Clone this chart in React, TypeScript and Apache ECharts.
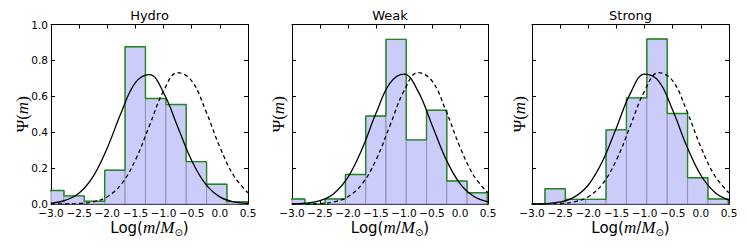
import React, { useEffect, useRef } from "react";
import * as echarts from "echarts";

const panelTitles = ["Hydro", "Weak", "Strong"];
const binEdges = [-3.13, -2.77, -2.408, -2.046, -1.684, -1.322, -0.96, -0.598, -0.236, 0.126, 0.488];
const hydroHist = [0.075, 0.045, 0.015, 0.188, 0.876, 0.588, 0.554, 0.236, 0.11, 0.013];
const weakHist = [0.028, 0.0, 0.028, 0.164, 0.49, 0.917, 0.357, 0.522, 0.128, 0.063];
const strongHist = [0.0, 0.085, 0.026, 0.026, 0.413, 0.591, 0.919, 0.504, 0.146, 0.028];

const curveX = [-3.0, -2.75, -2.5, -2.25, -2.0, -1.75, -1.5, -1.25, -1.0, -0.75, -0.5, -0.25, 0.0, 0.25, 0.5];
const hydroFit = [0.0051, 0.0197, 0.0613, 0.154, 0.3126, 0.5117, 0.676, 0.721, 0.62, 0.431, 0.2417, 0.1093, 0.0399, 0.0118, 0.0028];
const weakFit = [0.001, 0.0048, 0.0188, 0.059, 0.1495, 0.306, 0.505, 0.673, 0.724, 0.6285, 0.4403, 0.249, 0.1136, 0.0419, 0.0124];
const strongFit = [0.0005, 0.0026, 0.0112, 0.0384, 0.106, 0.2364, 0.4252, 0.6174, 0.7235, 0.6843, 0.5223, 0.3218, 0.16, 0.0642, 0.0208];
const referenceFit = [0.0001, 0.0005, 0.0028, 0.0119, 0.0405, 0.111, 0.245, 0.4375, 0.63, 0.732, 0.686, 0.519, 0.317, 0.156, 0.0622];

const xMin = -3.0;
const xMax = 0.5;
const xStep = 0.5;
const yMin = 0;
const yMax = 1.0;
const yStep = 0.2;

const histograms = [hydroHist, weakHist, strongHist];
const fits = [hydroFit, weakFit, strongFit];

const grids = [
  { left: 51, top: 24.5, width: 197, height: 179.5 },
  { left: 292, top: 24.5, width: 196, height: 179.5 },
  { left: 532, top: 24.5, width: 197, height: 179.5 },
];
const yNameGaps = [20.5, 5.5, 4.5];

const fmt = (v: number) => (v < 0 ? "\u2212" : "") + Math.abs(v).toFixed(1);

export default function App() {
  const ref = useRef<HTMLDivElement>(null);
  useEffect(() => {
    if (!ref.current) return;
    const chart = echarts.init(ref.current, undefined, { renderer: "svg" });
    const font = "DejaVu Sans";
    const tick = { show: true, inside: true, length: 4, lineStyle: { color: "#000", width: 1 } };
    const line = { show: true, onZero: false, lineStyle: { color: "#000", width: 1 } };
    const xAxes: any[] = [];
    const yAxes: any[] = [];
    const series: any[] = [];
    grids.forEach((g, i) => {
      xAxes.push({
        type: "value", gridIndex: i, position: "bottom", min: xMin, max: xMax, interval: xStep,
        axisLine: line, axisTick: tick, splitLine: { show: false },
        axisLabel: { show: true, formatter: fmt, fontFamily: font, fontSize: 10.5, color: "#000", margin: 3, showMinLabel: true, showMaxLabel: true, hideOverlap: false },
        name: "{a|Log(}{i|m}{a|/}{i|M}{s|\u2299}{a|)}",
        nameLocation: "middle", nameGap: 14, nameMoveOverlap: false,
        nameTextStyle: {
          rich: {
            a: { fontFamily: font, fontSize: 15, color: "#000", lineHeight: 19 },
            i: { fontFamily: "Liberation Serif", fontStyle: "italic", fontSize: 17, color: "#000", lineHeight: 19 },
            s: { fontFamily: font, fontSize: 10, color: "#000", lineHeight: 9, verticalAlign: "bottom" },
          },
        },
      });
      xAxes.push({
        type: "value", gridIndex: i, position: "top", min: xMin, max: xMax, interval: xStep,
        axisLine: line, axisTick: tick, splitLine: { show: false }, axisLabel: { show: false },
        name: panelTitles[i], nameLocation: "middle", nameGap: 3, nameMoveOverlap: false,
        nameTextStyle: { fontFamily: font, fontSize: 13, color: "#000" },
      });
      yAxes.push({
        type: "value", gridIndex: i, position: "left", min: yMin, max: yMax, interval: yStep,
        axisLine: line, axisTick: tick, splitLine: { show: false },
        axisLabel: { show: i === 0, formatter: (v: number) => v.toFixed(1), fontFamily: font, fontSize: 10.5, color: "#000", margin: 3 },
        name: "{g|\u03a8}{a|(}{i|m}{a|)}", nameLocation: "middle", nameRotate: 90, nameGap: yNameGaps[i], nameMoveOverlap: false,
        nameTextStyle: {
          rich: {
            g: { fontFamily: "Liberation Serif", fontSize: 17, color: "#000" },
            a: { fontFamily: "Liberation Serif", fontSize: 17, color: "#000" },
            i: { fontFamily: "Liberation Serif", fontStyle: "italic", fontSize: 17, color: "#000" },
          },
        },
      });
      yAxes.push({
        type: "value", gridIndex: i, position: "right", min: yMin, max: yMax, interval: yStep,
        axisLine: line, axisTick: tick, splitLine: { show: false }, axisLabel: { show: false },
      });

      const hist = histograms[i];
      const barData = hist.map((h, k) => [binEdges[k], binEdges[k + 1], h]);
      series.push({
        type: "custom", xAxisIndex: i * 2, yAxisIndex: i * 2, z: 1,
        data: barData, encode: { x: [0, 1], y: 2 },
        renderItem: (params: any, api: any) => {
          const x0 = api.value(0), x1 = api.value(1), h = api.value(2);
          if (!(h > 0)) return null;
          const p0 = api.coord([x0, h]);
          const p1 = api.coord([x1, 0]);
          const cs = params.coordSys;
          const r = echarts.graphic.clipRectByRect(
            { x: p0[0], y: p0[1], width: p1[0] - p0[0], height: p1[1] - p0[1] },
            { x: cs.x, y: cs.y, width: cs.width, height: cs.height }
          );
          if (!r) return null;
          return { type: "rect", shape: r, style: { fill: "#ccccfa", stroke: "#9090b4", lineWidth: 1 } };
        },
      });
      const stepData: number[][] = [[binEdges[0], 0]];
      hist.forEach((h, k) => {
        stepData.push([binEdges[k], h]);
        stepData.push([binEdges[k + 1], h]);
      });
      stepData.push([binEdges[binEdges.length - 1], 0]);
      series.push({
        type: "line", xAxisIndex: i * 2, yAxisIndex: i * 2, z: 2, data: stepData,
        showSymbol: false, symbol: "none", clip: true,
        lineStyle: { color: "#1e8a1e", width: 1.4 },
      });
      series.push({
        type: "line", xAxisIndex: i * 2, yAxisIndex: i * 2, z: 3,
        data: curveX.map((x, k) => [x, fits[i][k]]),
        showSymbol: false, symbol: "none", smooth: 0.4, clip: true,
        lineStyle: { color: "#000", width: 1.3 },
      });
      series.push({
        type: "line", xAxisIndex: i * 2, yAxisIndex: i * 2, z: 3,
        data: curveX.map((x, k) => [x, referenceFit[k]]),
        showSymbol: false, symbol: "none", smooth: 0.4, clip: true,
        lineStyle: { color: "#000", width: 1.3, type: [4, 3] },
      });
    });

    chart.setOption({
      animation: false,
      backgroundColor: "#fff",
      grid: grids.map((g) => ({ ...g, containLabel: false })),
      xAxis: xAxes,
      yAxis: yAxes,
      series,
    });
    return () => chart.dispose();
  }, []);
  return (
    <div
      ref={ref}
      style={{ position: "fixed", left: 0, top: 0, width: 747, height: 249, background: "#fff" }}
    />
  );
}
